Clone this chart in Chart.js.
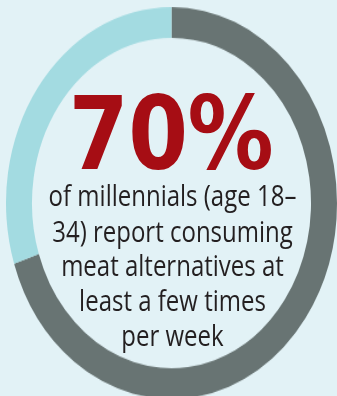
<!DOCTYPE html>
<html>
<head>
<meta charset="utf-8">
<script src="https://cdn.jsdelivr.net/npm/chart.js@4"></script>
<style>
  html, body { margin: 0; padding: 0; }
  body { width: 337px; height: 396px; overflow: hidden; background: #e2f2f6; position: relative; }
  /* the whole graphic is drawn in a slightly taller-than-wide frame */
  #stage { position: absolute; left: 0; top: 0; width: 337px; height: 335px; transform: scaleY(1.184); transform-origin: 0 0; }
  #ring { position: absolute; left: 5.5px; top: 6px; width: 331px; height: 331px; }
  #headline { position: absolute; left: 0; top: 69.5px; width: 342px; text-align: center;
    font-family: "DejaVu Sans", sans-serif; font-weight: bold; font-size: 86px; line-height: 86px;
    color: #a60d14; letter-spacing: -0.5px; }
  #caption { position: absolute; left: 0; top: 150px; width: 345px; text-align: center;
    font-family: "Open Sans", sans-serif; font-weight: 500; font-size: 24px; line-height: 29.6px; color: #231f20; }
  #caption div { white-space: nowrap; }
</style>
</head>
<body>
<div id="stage">
  <div id="ring"><canvas id="donut"></canvas></div>
  <div id="headline"></div>
  <div id="caption"></div>
</div>
<script>
// share of millennials eating meat alternatives at least weekly
const segments = ["At least a few times per week", "Less often"];
const shares = [70, 30];
const segmentColors = ["#687473", "#a3dbe1"];

const captionLines = [
  "of millennials (age 18–",
  "34) report consuming",
  "meat alternatives at",
  "least a few times",
  "per week"
];

document.getElementById("headline").textContent = shares[0] + "%";
const caption = document.getElementById("caption");
captionLines.forEach(line => {
  const row = document.createElement("div");
  row.textContent = line;
  caption.appendChild(row);
});

new Chart(document.getElementById("donut"), {
  type: "doughnut",
  data: {
    labels: segments,
    datasets: [{
      data: shares,
      backgroundColor: segmentColors,
      borderWidth: 0,
      hoverOffset: 0
    }]
  },
  options: {
    responsive: true,
    maintainAspectRatio: false,
    animation: false,
    events: [],
    cutout: "84.3%",
    rotation: 0,
    layout: { padding: 0 },
    plugins: {
      legend: { display: false },
      tooltip: { enabled: false }
    }
  }
});
</script>
</body>
</html>
